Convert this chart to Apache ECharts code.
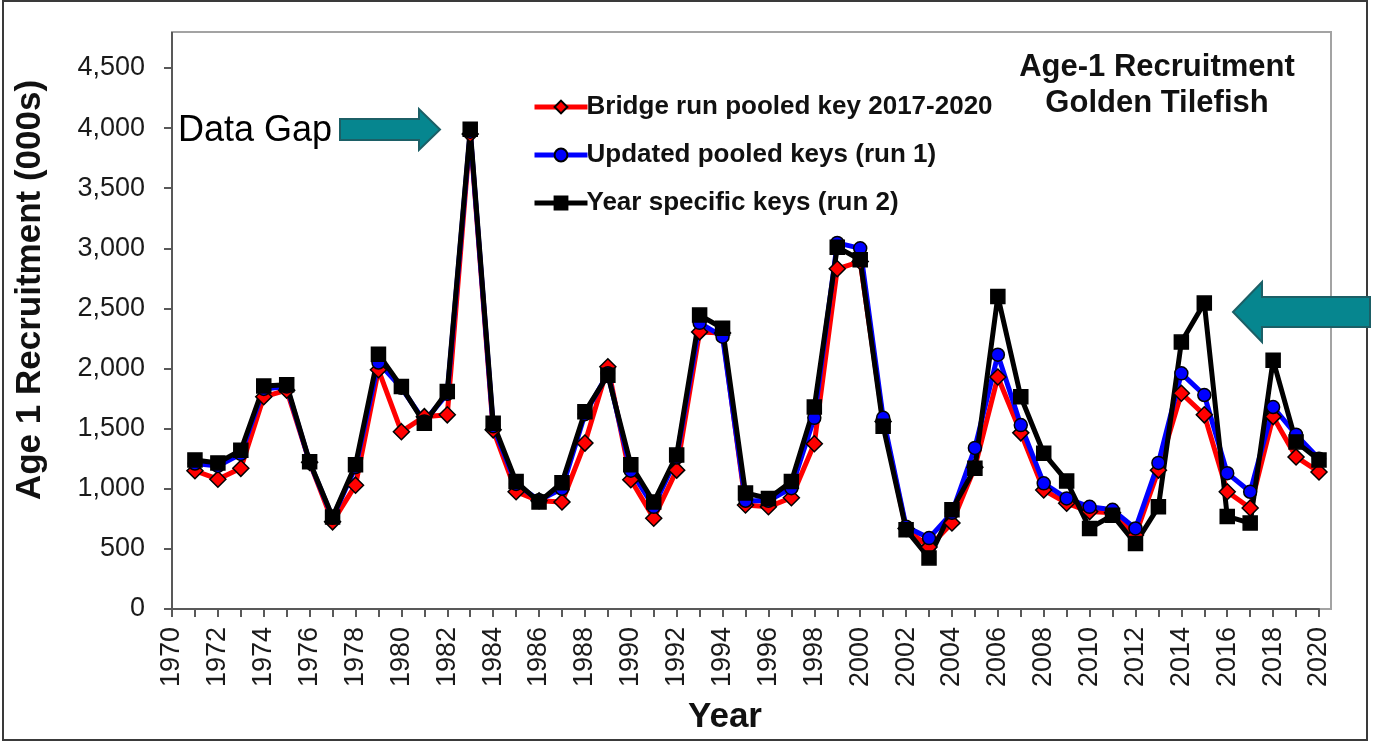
<!DOCTYPE html>
<html>
<head>
<meta charset="utf-8">
<title>Age-1 Recruitment Golden Tilefish</title>
<script src="https://cdn.jsdelivr.net/npm/echarts@6/dist/echarts.min.js"></script>
<style>
  html, body { margin: 0; padding: 0; background: #fff; }
  #chart { width: 1373px; height: 745px; }
</style>
</head>
<body>
<div id="chart"></div>
<script>
  // data, thousands of fish
  const years = [1971, 1972, 1973, 1974, 1975, 1976, 1977, 1978, 1979, 1980,
    1981, 1982, 1983, 1984, 1985, 1986, 1987, 1988, 1989, 1990,
    1991, 1992, 1993, 1994, 1995, 1996, 1997, 1998, 1999, 2000,
    2001, 2002, 2003, 2004, 2005, 2006, 2007, 2008, 2009, 2010,
    2011, 2012, 2013, 2014, 2015, 2016, 2017, 2018, 2019, 2020]

  const bridgeRun = [1150, 1080, 1170, 1765, 1820, 1220, 725, 1030, 1990, 1475,
    1600, 1615, 3950, 1490, 975, 900, 890, 1380, 2015, 1075,
    755, 1155, 2305, 2295, 865, 850, 925, 1375, 2830, 2890,
    1560, 670, 515, 715, 1180, 1930, 1465, 990, 880, 810,
    800, 615, 1155, 1795, 1615, 975, 840, 1600, 1265, 1140]

  const updatedPooled = [1210, 1190, 1290, 1830, 1850, 1220, 760, 1180, 2050, 1840,
    1560, 1790, 3970, 1520, 1040, 905, 1000, 1620, 1960, 1150,
    850, 1260, 2380, 2265, 900, 900, 1005, 1590, 3045, 3000,
    1590, 685, 590, 800, 1340, 2115, 1530, 1045, 920, 850,
    825, 670, 1215, 1960, 1780, 1130, 975, 1680, 1450, 1250]

  const yearSpecific = [1240, 1215, 1320, 1855, 1865, 1225, 765, 1200, 2120, 1850,
    1545, 1810, 3990, 1545, 1060, 890, 1050, 1640, 1945, 1200,
    890, 1280, 2445, 2335, 965, 920, 1060, 1680, 3010, 2905,
    1520, 660, 425, 825, 1170, 2600, 1765, 1295, 1065, 670,
    780, 545, 850, 2220, 2545, 770, 715, 2070, 1390, 1240]

  const seriesNames = ['Bridge run pooled key 2017-2020', 'Updated pooled keys (run 1)', 'Year specific keys (run 2)']

  const FONT = '"Liberation Sans", Arial, sans-serif'
  const AXIS_COLOR = '#595959'
  const ARROW_FILL = '#06868f'
  const ARROW_EDGE = '#1c5f66'

  const pairs = vals => years.map((y, i) => [y, vals[i]])

  function makeSeries(name, vals, color, symbol, size) {
    return {
      name: name,
      type: 'line',
      data: pairs(vals),
      symbol: symbol,
      symbolSize: size,
      showAllSymbol: true,
      lineStyle: {color: color, width: 5},
      itemStyle: {color: color, borderColor: '#000', borderWidth: 1.5},
      emphasis: {disabled: true},
      animation: false
    }
  }

  const chart = echarts.init(document.getElementById('chart'))

  chart.setOption({
    backgroundColor: '#fff',
    textStyle: {fontFamily: FONT},
    title: {
      text: 'Age-1 Recruitment\nGolden Tilefish',
      left: 1152,
      top: 44,
      textAlign: 'center',
      textStyle: {fontFamily: FONT, fontSize: 31, fontWeight: 'bold', color: '#111', lineHeight: 36}
    },
    legend: {
      orient: 'vertical',
      left: 527,
      top: 87,
      itemWidth: 53,
      itemHeight: 16,
      itemGap: 18,
      selectedMode: false,
      data: seriesNames,
      lineStyle: {width: 5},
      textStyle: {fontFamily: FONT, fontSize: 26, fontWeight: 'bold', color: '#111', lineHeight: 30, padding: [0, 0, 0, -6]}
    },
    grid: {left: 172, right: 54, top: 68, bottom: 136, containLabel: false},
    xAxis: {
      type: 'value',
      min: 1970,
      max: 2020,
      interval: 1,
      splitLine: {show: false},
      axisLine: {lineStyle: {color: AXIS_COLOR, width: 2}},
      axisTick: {length: 8, lineStyle: {color: AXIS_COLOR, width: 2}},
      axisLabel: {
        rotate: 90,
        margin: 18,
        fontFamily: FONT,
        fontSize: 27,
        color: '#1a1a1a',
        formatter: v => (v % 2 === 0 ? String(v) : '')
      }
    },
    yAxis: {
      type: 'value',
      min: 0,
      max: 4500,
      interval: 500,
      splitLine: {show: false},
      axisLine: {show: true, lineStyle: {color: AXIS_COLOR, width: 2}},
      axisTick: {show: true, length: 8, lineStyle: {color: AXIS_COLOR, width: 2}},
      axisLabel: {
        margin: 27,
        fontFamily: FONT,
        fontSize: 27,
        color: '#1a1a1a',
        formatter: v => v.toLocaleString('en-US')
      }
    },
    series: [
      makeSeries(seriesNames[0], bridgeRun, '#ff0000', 'diamond', 16),
      makeSeries(seriesNames[1], updatedPooled, '#0000ff', 'circle', 13),
      makeSeries(seriesNames[2], yearSpecific, '#000000', 'rect', 14)
    ],
    graphic: [
      // outer frame
      {type: 'rect', z: -10, shape: {x: 3, y: 1, width: 1364, height: 739},
        style: {fill: null, stroke: '#3a3a3a', lineWidth: 2}},
      // plot box
      {type: 'rect', z: -5, shape: {x: 172, y: 32, width: 1159, height: 577},
        style: {fill: null, stroke: '#a3a3a3', lineWidth: 2}},
      {type: 'line', z: -4, shape: {x1: 172, y1: 32, x2: 172, y2: 609},
        style: {stroke: AXIS_COLOR, lineWidth: 2}},
      // axis names
      {type: 'text', x: 30, y: 290, rotation: Math.PI / 2,
        style: {text: 'Age 1 Recruitment (000s)', font: 'bold 35px ' + FONT, fill: '#111', align: 'center', verticalAlign: 'middle'}},
      {type: 'text', x: 725, y: 717,
        style: {text: 'Year', font: 'bold 35px ' + FONT, fill: '#111', align: 'center', verticalAlign: 'middle'}},
      // annotations
      {type: 'text', x: 178, y: 131,
        style: {text: 'Data Gap', font: '36px ' + FONT, fill: '#000', align: 'left', verticalAlign: 'middle'}},
      {type: 'polygon', z: 10,
        shape: {points: [[340, 119], [419, 119], [419, 109], [440, 129.5], [419, 150], [419, 140], [340, 140]]},
        style: {fill: ARROW_FILL, stroke: ARROW_EDGE, lineWidth: 2}},
      {type: 'polygon', z: 10,
        shape: {points: [[1233, 312], [1262, 282], [1262, 297], [1370, 297], [1370, 327], [1262, 327], [1262, 342]]},
        style: {fill: ARROW_FILL, stroke: ARROW_EDGE, lineWidth: 2}}
    ]
  })
</script>
</body>
</html>
